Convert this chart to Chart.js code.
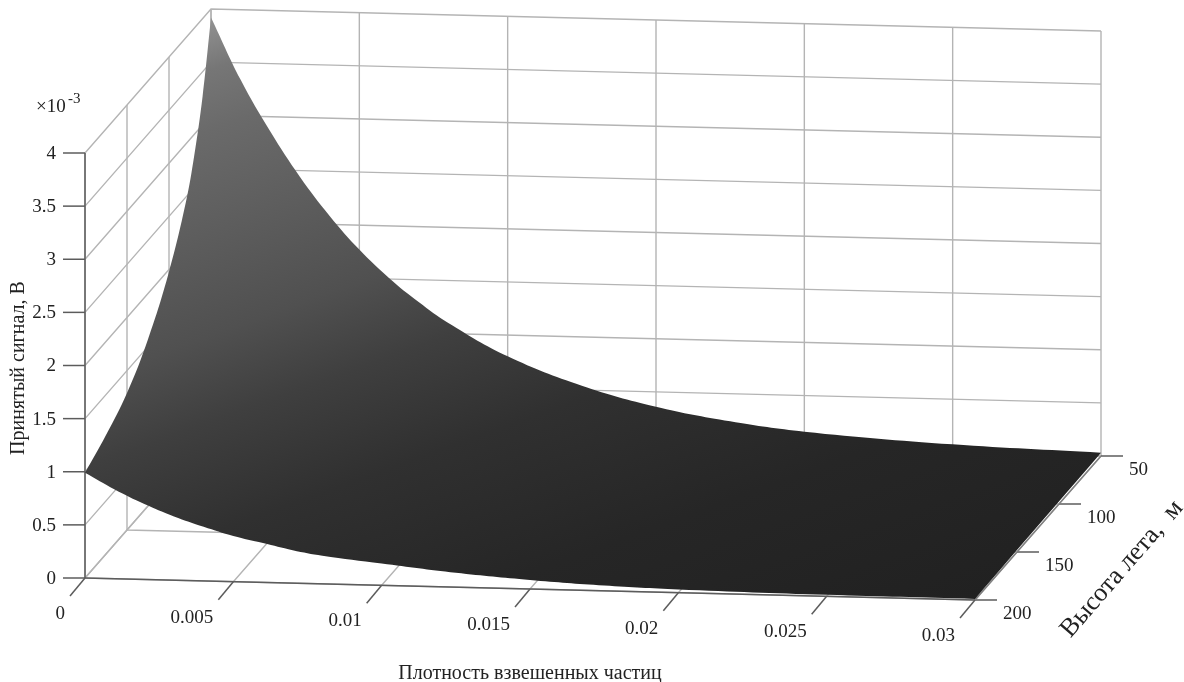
<!DOCTYPE html>
<html>
<head>
<meta charset="utf-8">
<title>Принятый сигнал</title>
<script src="https://cdn.jsdelivr.net/npm/chart.js@4"></script>
<style>
  body { margin: 0; background: #fff; }
  canvas { display: block; }
</style>
</head>
<body>
<canvas id="surfaceChart" width="1184" height="682"></canvas>
<script>
// tick values of the three axes
const densityTicks = [0, 0.005, 0.01, 0.015, 0.02, 0.025, 0.03];
const densityLabels = ['0', '0.005', '0.01', '0.015', '0.02', '0.025', '0.03'];
const heightTicks = [50, 100, 150, 200];
const signalTicks = [0, 0.5, 1, 1.5, 2, 2.5, 3, 3.5, 4];

// surface edges (signal in 1e-3 V)
const edgeDensities = [0, 0.001, 0.002, 0.003, 0.004, 0.005, 0.006, 0.007, 0.008, 0.01, 0.0125, 0.015, 0.0175, 0.02, 0.025, 0.03];
const signalAt50m = [3.92, 3.34, 2.86, 2.44, 2.08, 1.77, 1.51, 1.29, 1.10, 0.80, 0.54, 0.36, 0.24, 0.16, 0.075, 0.03];
const signalAt200m = [0.99, 0.84, 0.71, 0.60, 0.51, 0.43, 0.37, 0.31, 0.265, 0.205, 0.135, 0.085, 0.05, 0.03, 0.014, 0.01];
const edgeHeights = [50, 60, 70, 80, 100, 125, 150, 175, 200];
const signalAtZeroDensity = [3.92, 3.27, 2.8, 2.45, 1.98, 1.57, 1.29, 1.12, 0.99];

// oblique projection of the 3d box onto the page
function project(d, h, z) {
    const t = d / 0.03;
    const u = (200 - h) / 150;
    return {
        x: 85 + 890 * t + 126 * u,
        y: 578 + 22 * t - 144 * u - 106.25 * z
    };
}

function line(points, color, width) {
    return {
        data: points,
        showLine: true,
        borderColor: color,
        borderWidth: width,
        pointRadius: 0,
        fill: false
    };
}

const gridColor = '#b4b4b4';
const axisColor = '#5c5c5c';
const zMax = signalTicks[signalTicks.length - 1];
const dMax = densityTicks[densityTicks.length - 1];

// corners go in twice so the spline stays sharp there
function surfaceOutline() {
    const pts = [];
    edgeDensities.forEach((d, i) => pts.push(project(d, 50, signalAt50m[i])));
    pts.push(pts[pts.length - 1]);
    const last = edgeDensities.length - 1;
    pts.push(project(edgeDensities[last], 200, signalAt200m[last]));
    for (let i = last; i >= 0; i--) {
        pts.push(project(edgeDensities[i], 200, signalAt200m[i]));
    }
    for (let i = edgeHeights.length - 1; i >= 0; i--) {
        pts.push(project(0, edgeHeights[i], signalAtZeroDensity[i]));
    }
    return pts;
}

function surfaceGradient(context) {
    const chart = context.chart;
    // scales have no pixels yet on the first pass
    if (!chart.chartArea) return '#444444';
    const { x, y } = chart.scales;
    const g = chart.ctx.createLinearGradient(
        x.getPixelForValue(211), y.getPixelForValue(18),
        x.getPixelForValue(485), y.getPixelForValue(777)
    );
    g.addColorStop(0, '#929292');
    g.addColorStop(0.06, '#767676');
    g.addColorStop(0.13, '#6a6a6a');
    g.addColorStop(0.37, '#505050');
    g.addColorStop(0.47, '#3f3f3f');
    g.addColorStop(0.6, '#303030');
    g.addColorStop(0.78, '#262626');
    g.addColorStop(1, '#212121');
    return g;
}

const datasets = [];

// first dataset ends up on top
datasets.push({
    data: surfaceOutline(),
    showLine: true,
    tension: 0.4,
    fill: 'shape',
    backgroundColor: surfaceGradient,
    borderWidth: 0,
    pointRadius: 0
});

// axes
datasets.push(line([project(0, 200, 0), project(0, 200, zMax)], axisColor, 1.5));
datasets.push(line([project(0, 200, 0), project(dMax, 200, 0)], axisColor, 1.5));
datasets.push(line([project(dMax, 200, 0), project(dMax, 50, 0)], '#808080', 1.5));

// tick marks
signalTicks.forEach(z => {
    const p = project(0, 200, z);
    datasets.push(line([p, { x: p.x - 22, y: p.y }], axisColor, 1.5));
});
densityTicks.forEach(d => {
    const p = project(d, 200, 0);
    datasets.push(line([p, { x: p.x - 15, y: p.y + 18 }], axisColor, 1.5));
});
heightTicks.forEach(h => {
    const p = project(dMax, h, 0);
    datasets.push(line([p, { x: p.x + 22, y: p.y }], axisColor, 1.5));
});

// walls and floor
signalTicks.forEach(z => {
    datasets.push(line([project(0, 200, z), project(0, 50, z), project(dMax, 50, z)], gridColor, 1.4));
});
densityTicks.forEach(d => {
    datasets.push(line([project(d, 200, 0), project(d, 50, 0), project(d, 50, zMax)], gridColor, 1.4));
});
heightTicks.forEach(h => {
    datasets.push(line([project(dMax, h, 0), project(0, h, 0), project(0, h, zMax)], gridColor, 1.4));
});

const textColor = '#222222';
const tickFont = '19px "Liberation Serif"';

const axisText = {
    id: 'axisText',
    afterDraw(chart) {
        const { ctx, scales: { x, y } } = chart;
        const put = (text, p, dx, dy, align) => {
            ctx.textAlign = align;
            ctx.fillText(text, x.getPixelForValue(p.x) + dx, y.getPixelForValue(p.y) + dy);
        };
        ctx.save();
        ctx.fillStyle = textColor;
        ctx.textBaseline = 'middle';
        ctx.font = tickFont;
        signalTicks.forEach(z => put(String(z), project(0, 200, z), -29, 1, 'right'));
        densityTicks.forEach((d, i) => put(densityLabels[i], project(d, 200, 0), -20, 36, 'right'));
        heightTicks.forEach(h => put(String(h), project(dMax, h, 0), 28, 14, 'left'));

        // exponent above the signal axis
        put('×10', project(0, 200, zMax), -49, -46, 'left');
        ctx.font = '15px "Liberation Serif"';
        put('-3', project(0, 200, zMax), -17, -54, 'left');

        ctx.font = '20px "Liberation Serif"';
        ctx.textAlign = 'center';
        ctx.fillText('Плотность взвешенных частиц', 530, 674);

        ctx.translate(19, 368);
        ctx.rotate(-Math.PI / 2);
        ctx.fillText('Принятый сигнал, В', 0, 0);
        ctx.restore();

        ctx.save();
        ctx.fillStyle = textColor;
        ctx.textAlign = 'center';
        ctx.textBaseline = 'middle';
        ctx.font = '26px "Liberation Serif"';
        ctx.translate(1122, 569);
        ctx.rotate(-49 * Math.PI / 180);
        ctx.fillText('Высота лета,  м', 0, 0);
        ctx.restore();
    }
};

new Chart(document.getElementById('surfaceChart').getContext('2d'), {
    type: 'scatter',
    data: { datasets },
    options: {
        responsive: false,
        animation: false,
        layout: { padding: 0 },
        plugins: { legend: { display: false }, tooltip: { enabled: false } },
        scales: {
            x: { type: 'linear', min: 0, max: 1184, display: false },
            y: { type: 'linear', min: 0, max: 682, reverse: true, display: false }
        }
    },
    plugins: [axisText]
});
</script>
</body>
</html>
